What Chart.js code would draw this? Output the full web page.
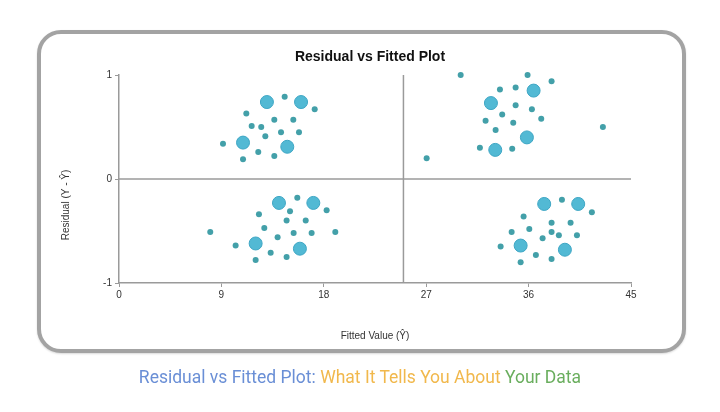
<!DOCTYPE html>
<html>
<head>
<meta charset="utf-8">
<script src="https://cdn.jsdelivr.net/npm/chart.js@4/dist/chart.umd.min.js"></script>
<style>
  html, body { margin: 0; padding: 0; background: #ffffff; }
  body { width: 720px; height: 412px; position: relative; overflow: hidden; }
  #frame {
    position: absolute; left: 37px; top: 30px; width: 641px; height: 315px;
    border: 4.5px solid #a3a3a3; border-radius: 24px; background: #fff;
    box-shadow: 0 1px 2px rgba(0,0,0,0.15);
  }
  #wrap { position: absolute; left: 0; top: 0; width: 720px; height: 412px; }
  #caption {
    position: absolute; left: 0; top: 367px; width: 720px; text-align: center;
    font-family: Roboto, "Open Sans", sans-serif; font-size: 17.5px; white-space: nowrap;
  }
  .c1 { color: #6a8fd6; } .c2 { color: #f1b84c; } .c3 { color: #6aae5e; }
</style>
</head>
<body>
<div id="frame"></div>
<div id="wrap"><canvas id="c" width="720" height="412"></canvas></div>
<div id="caption"><span class="c1">Residual vs Fitted Plot:</span> <span class="c2">What It Tells You About</span> <span class="c3">Your Data</span></div>
<script>
const chartTitle = 'Residual vs Fitted Plot';
const xTitle = 'Fitted Value (Ŷ)';
const yTitle = 'Residual (Y - Ŷ)';
const xTicks = [0, 9, 18, 27, 36, 45];
const yTicks = [-1, 0, 1];

const smallX = [9.14, 11.19, 11.66, 12.5, 12.86, 12.24, 10.9, 13.65, 14.56, 14.24, 13.65, 15.32, 15.82, 17.2,
  30.03, 35.91, 38.02, 33.48, 34.86, 34.86, 36.29, 33.68, 32.22, 34.65, 37.11, 33.1, 31.72, 34.56, 27.04, 42.53,
  15.67, 15.03, 18.25, 12.3, 14.73, 16.41, 12.77, 8.02, 13.94, 15.35, 16.93, 19.01, 10.25, 13.33, 14.73, 12.01,
  38.93, 41.56, 35.56, 38.02, 39.69, 34.51, 36.06, 38.02, 38.66, 40.25, 37.23, 33.54, 36.64, 38.02, 35.3];
const smallY = [0.34, 0.63, 0.51, 0.5, 0.41, 0.26, 0.19, 0.57, 0.79, 0.45, 0.22, 0.57, 0.45, 0.67,
  1.0, 1.0, 0.94, 0.86, 0.88, 0.71, 0.67, 0.62, 0.56, 0.54, 0.58, 0.47, 0.3, 0.29, 0.2, 0.5,
  -0.18, -0.31, -0.3, -0.34, -0.4, -0.4, -0.47, -0.51, -0.56, -0.52, -0.52, -0.51, -0.64, -0.71, -0.75, -0.78,
  -0.2, -0.32, -0.36, -0.42, -0.42, -0.51, -0.48, -0.51, -0.54, -0.54, -0.57, -0.65, -0.73, -0.77, -0.8];

const largeX = [13.0, 16.0, 10.9, 14.79, 36.44, 32.69, 35.85, 33.07, 14.06, 17.08, 12.01, 15.9, 37.37, 40.36, 35.3, 39.19];
const largeY = [0.74, 0.74, 0.35, 0.31, 0.85, 0.73, 0.4, 0.28, -0.23, -0.23, -0.62, -0.67, -0.24, -0.24, -0.64, -0.68];

const refLineX = 25;
const refLineY = 0;

const zip = (xs, ys) => xs.map((x, i) => ({ x: x, y: ys[i] }));
const FONT = '"Liberation Sans", Arial, sans-serif';

const titlesPlugin = {
  id: 'titles',
  afterDraw(chart) {
    const ctx = chart.ctx;
    const a = chart.chartArea;
    ctx.save();
    ctx.fillStyle = '#111';
    ctx.textAlign = 'center';
    ctx.textBaseline = 'middle';
    ctx.font = 'bold 14px ' + FONT;
    ctx.fillText(chartTitle, 370, 57);
    ctx.fillStyle = '#333';
    ctx.font = '10px ' + FONT;
    ctx.fillText(xTitle, (a.left + a.right) / 2, 336);
    ctx.translate(66, 205);
    ctx.rotate(-Math.PI / 2);
    ctx.fillText(yTitle, 0, 0);
    ctx.restore();
  }
};

new Chart(document.getElementById('c'), {
  type: 'scatter',
  data: {
    datasets: [
      {
        label: 'large', data: zip(largeX, largeY), order: 1, clip: false,
        pointRadius: 6.5, pointBackgroundColor: '#52b9d4', pointBorderColor: '#3ea6c4', pointBorderWidth: 1
      },
      {
        label: 'small', data: zip(smallX, smallY), order: 2, clip: false,
        pointRadius: 3, pointBackgroundColor: '#43a0a9', pointBorderColor: '#43a0a9', pointBorderWidth: 0
      },
      {
        label: 'vline', data: [{ x: refLineX, y: yTicks[0] }, { x: refLineX, y: yTicks[yTicks.length - 1] }],
        showLine: true, order: 3, pointRadius: 0, borderColor: '#9a9a9a', borderWidth: 1.5
      },
      {
        label: 'hline', data: [{ x: xTicks[0], y: refLineY }, { x: xTicks[xTicks.length - 1], y: refLineY }],
        showLine: true, order: 3, pointRadius: 0, borderColor: '#9a9a9a', borderWidth: 1.5
      }
    ]
  },
  options: {
    responsive: false,
    animation: false,
    devicePixelRatio: 1,
    layout: { padding: { left: 0, top: 75, right: 89, bottom: 0 } },
    plugins: { legend: { display: false }, tooltip: { enabled: false }, title: { display: false } },
    scales: {
      x: {
        type: 'linear', min: 0, max: 45,
        afterFit(s) { s.height = 129; },
        afterBuildTicks(s) { s.ticks = xTicks.map(v => ({ value: v })); },
        border: { color: '#9a9a9a', width: 1.5 },
        grid: { drawOnChartArea: false, drawTicks: true, tickLength: 4, color: '#9a9a9a' },
        ticks: { color: '#333', font: { family: FONT, size: 10 }, padding: 2, maxRotation: 0 }
      },
      y: {
        type: 'linear', min: -1, max: 1,
        afterFit(s) { s.width = 119; },
        afterBuildTicks(s) { s.ticks = yTicks.map(v => ({ value: v })); },
        border: { color: '#9a9a9a', width: 1.5 },
        grid: { drawOnChartArea: false, drawTicks: true, tickLength: 4, color: '#9a9a9a' },
        ticks: { color: '#333', font: { family: FONT, size: 10 }, padding: 3 }
      }
    }
  },
  plugins: [titlesPlugin]
});
</script>
</body>
</html>
